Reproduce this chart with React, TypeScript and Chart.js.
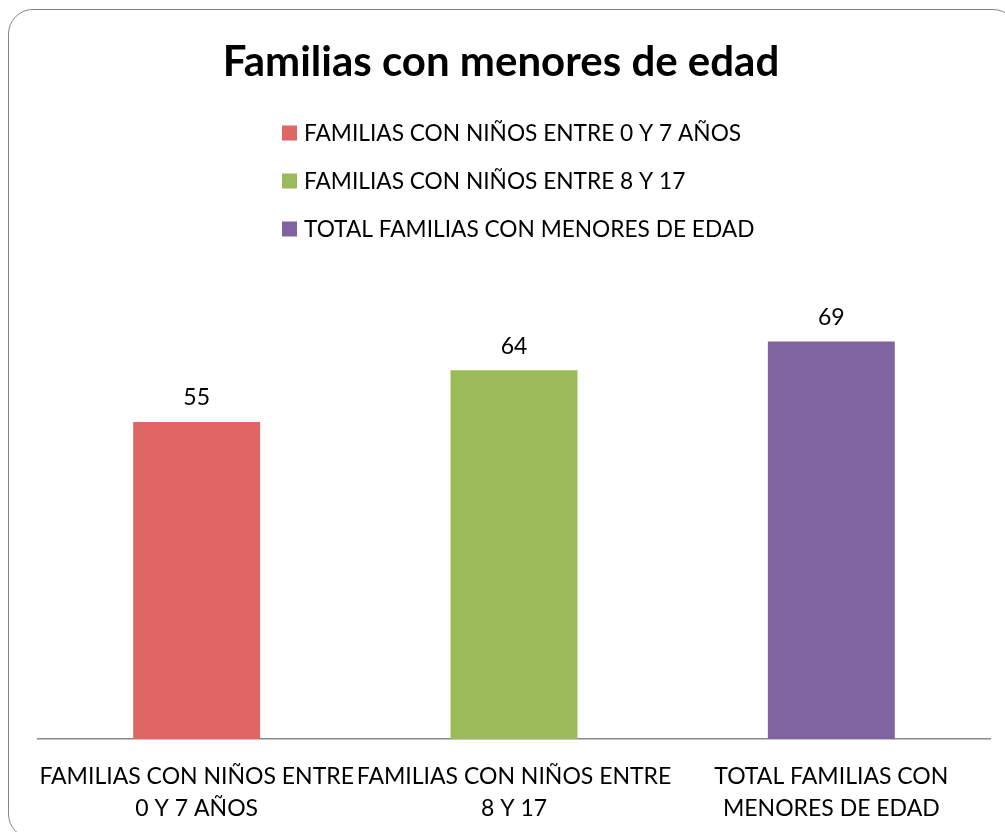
import React, { useEffect, useRef } from "react";
import { Chart, registerables } from "chart.js";

Chart.register(...registerables);

const TITLE = "Familias con menores de edad";
const categories: string[][] = [
  ["FAMILIAS CON NIÑOS ENTRE", "0 Y 7 AÑOS"],
  ["FAMILIAS CON NIÑOS ENTRE", "8 Y 17"],
  ["TOTAL FAMILIAS CON", "MENORES DE EDAD"],
];
const legendLabels: string[] = [
  "FAMILIAS CON NIÑOS ENTRE 0 Y 7 AÑOS",
  "FAMILIAS CON NIÑOS ENTRE 8 Y 17",
  "TOTAL FAMILIAS CON MENORES DE EDAD",
];
const values: number[] = [55, 64, 69];
const colors: string[] = ["#E06666", "#9BBB59", "#8064A2"];

const FONT = "Lato, 'Open Sans', sans-serif";

const decorPlugin = {
  id: "decor",
  afterDraw(chart: any) {
    const ctx = chart.ctx;
    ctx.save();
    // title
    ctx.fillStyle = "#000";
    ctx.textAlign = "center";
    ctx.textBaseline = "middle";
    ctx.font = `bold 42px ${FONT}`;
    ctx.fillText(TITLE, 501, 62);
    // legend
    ctx.font = `22.7px ${FONT}`;
    ctx.textAlign = "left";
    legendLabels.forEach((lab, i) => {
      const cy = 133 + i * 48;
      ctx.fillStyle = colors[i];
      ctx.fillRect(282, cy - 7.5, 15, 15);
      ctx.fillStyle = "#000";
      ctx.fillText(lab, 304, cy + 1);
    });
    // data labels
    const meta = chart.getDatasetMeta(0);
    ctx.font = `23px ${FONT}`;
    ctx.textAlign = "center";
    meta.data.forEach((el: any, i: number) => {
      ctx.fillText(String(values[i]), el.x, el.y - 24);
    });
    ctx.restore();
  },
};

export default function App() {
  const ref = useRef<HTMLCanvasElement>(null);
  useEffect(() => {
    if (!ref.current) return;
    const chart = new Chart(ref.current, {
      type: "bar",
      data: {
        labels: categories as any,
        datasets: [
          {
            label: "Familias",
            data: values,
            backgroundColor: colors,
            categoryPercentage: 1,
            barPercentage: 0.4,
          },
        ],
      },
      options: {
        animation: false,
        responsive: false,
        devicePixelRatio: 1,
        layout: { padding: { left: 38, right: 15, top: 278, bottom: 0 } },
        plugins: {
          legend: { display: false },
          title: { display: false },
          tooltip: { enabled: false },
        },
        scales: {
          x: {
            grid: { display: false, drawTicks: false },
            border: { display: true, color: "#898989", width: 1.5 },
            ticks: {
              color: "#000",
              font: { family: FONT, size: 23, lineHeight: 1.4 },
              padding: 21,
              maxRotation: 0,
              autoSkip: false,
            },
            afterFit: (scale: any) => {
              scale.height = 93;
            },
          },
          y: { display: false, min: 0, max: 80 },
        },
      },
      plugins: [decorPlugin],
    });
    return () => chart.destroy();
  }, []);

  return (
    <div style={{ position: "fixed", left: 0, top: 0, width: 1005, height: 832, overflow: "hidden", background: "#fff" }}>
      <div
        style={{
          position: "absolute",
          left: 8,
          top: 9,
          width: 1010,
          height: 830,
          border: "1.5px solid #858585",
          borderRadius: 25,
          boxSizing: "border-box",
        }}
      />
      <canvas ref={ref} width={1005} height={832} style={{ position: "absolute", left: 0, top: 0, width: 1005, height: 832 }} />
    </div>
  );
}
